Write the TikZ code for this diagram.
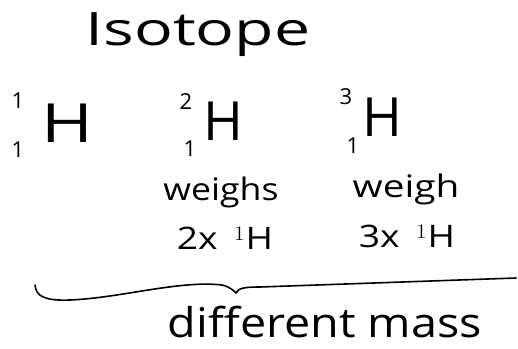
\documentclass[tikz,border=0pt]{standalone}
\usepackage{graphicx}
\usepackage{fontspec}
\setmainfont{Open Sans}
% stretch a piece of text sideways only
\newcommand{\widen}[2]{\scalebox{#1}[1]{#2}}
\begin{document}
\begin{tikzpicture}[x=1pt,y=-1pt,
  ink/.style={text=black, inner sep=0pt, anchor=center},
  title/.style={ink, font=\fontsize{46}{46}\selectfont},
  elem/.style={ink, font=\fontsize{54}{54}\selectfont},
  index/.style={ink, font=\fontsize{22}{22}\selectfont},
  note/.style={ink, font=\fontsize{31}{31}\selectfont},
  caption/.style={ink, font=\fontsize{41}{41}\selectfont},
  brace/.style={draw=black, line width=1.6pt, line cap=round, line join=round}]
\useasboundingbox[fill=white] (0,0) rectangle (518,348);

% heading
\node[title] (head) at (198,35) {\widen{1.4}{Isotope}};

% protium
\node[index] (m1) at (18,101) {1};
\node[index] (z1) at (18,150) {1};
\node[elem]  (h1) at (67,123) {\widen{1.3}{H}};

% deuterium
\node[index] (m2) at (186,102) {2};
\node[index] (z2) at (190,149) {1};
\node[elem]  (h2) at (223,121) {H};

% tritium
\node[index] (m3) at (346,97) {3};
\node[index] (z3) at (353,146) {1};
\node[elem]  (h3) at (382,117) {H};

% relative weights
\node[note] (w2) at (221,192) {\widen{1.15}{weighs}};
\node[note] (r2) at (225,238) {\widen{1.2}{2x \,$^{1}$H}};
\node[note] (w3) at (406,189) {\widen{1.25}{weigh}};
\node[note] (r3) at (407,236) {\widen{1.2}{3x \,$^{1}$H}};

% brace under the three isotopes
\coordinate (bl) at (35,285);
\coordinate (tip) at (236,293);
\coordinate (br) at (516,278);
\draw[brace] (bl) .. controls (36,296) and (44,301) .. (70,300)
  .. controls (120,298) and (180,280) .. (222,285)
  .. controls (230,287) and (233,290) .. (tip)
  .. controls (238,288) and (245,287) .. (260,287)
  -- (br);

% caption
\node[caption] (cap) at (325,322) {\widen{1.14}{different mass}};
\end{tikzpicture}
\end{document}
